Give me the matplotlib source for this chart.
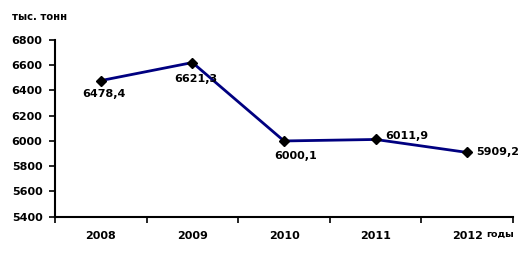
import numpy as np
import matplotlib
matplotlib.use("Agg")
import matplotlib.pyplot as plt

years = ['2008', '2009', '2010', '2011', '2012']
values = [6478.4, 6621.3, 6000.1, 6011.9, 5909.2]
labels = ['6478,4', '6621,3', '6000,1', '6011,9', '5909,2']
yticks = [5400, 5600, 5800, 6000, 6200, 6400, 6600, 6800]

plt.rcParams['font.family'] = ['DejaVu Sans']
plt.rcParams['font.weight'] = 'bold'

fig = plt.figure(figsize=(5.32, 2.56), dpi=100)
ax = fig.add_axes([55/532, 1 - 216.7/256, (513-55)/532, (216.7-40)/256])

x = np.arange(len(years))
ax.plot(x, values, color='#000080', lw=2, marker='D', ms=5,
        mfc='black', mec='black', zorder=3)

# label placement (offsets in points)
offs = [(-13.7, -10), (-13, -11.5), (-7.2, -10.8), (7.2, 2.2), (6.5, 0)]
for xi, v, t, o in zip(x, values, labels, offs):
    ax.annotate(t, (xi, v), xytext=o, textcoords='offset points',
                ha='left', va='center', fontsize=8, fontweight='bold')

ax.set_xlim(-0.5, len(years) - 0.5)
ax.set_ylim(5400, 6800)
ax.set_yticks(yticks)
ax.set_yticklabels([str(t) for t in yticks], fontsize=8, fontweight='bold')
ax.set_xticks(np.arange(-0.5, len(years), 1.0))
ax.set_xticklabels([])
ax.set_xticks(x, minor=True)
ax.set_xticklabels(years, minor=True, fontsize=8, fontweight='bold')
ax.tick_params(axis='x', which='minor', length=0, pad=10)
ax.tick_params(axis='x', which='major', length=4, width=1.2, direction='out')
ax.tick_params(axis='y', length=4, width=1.2, direction='out', pad=5)

for s in ['top', 'right']:
    ax.spines[s].set_visible(False)
for s in ['left', 'bottom']:
    ax.spines[s].set_linewidth(1.5)

fig.text(12/532, 1 - 17/256, 'тыс. тонн', fontsize=7.2, fontweight='bold',
         va='center', ha='left')
fig.text(486/532, 1 - 234/256, 'годы', fontsize=6.8, fontweight='bold',
         va='center', ha='left')

fig.savefig('out.png', dpi=100)
